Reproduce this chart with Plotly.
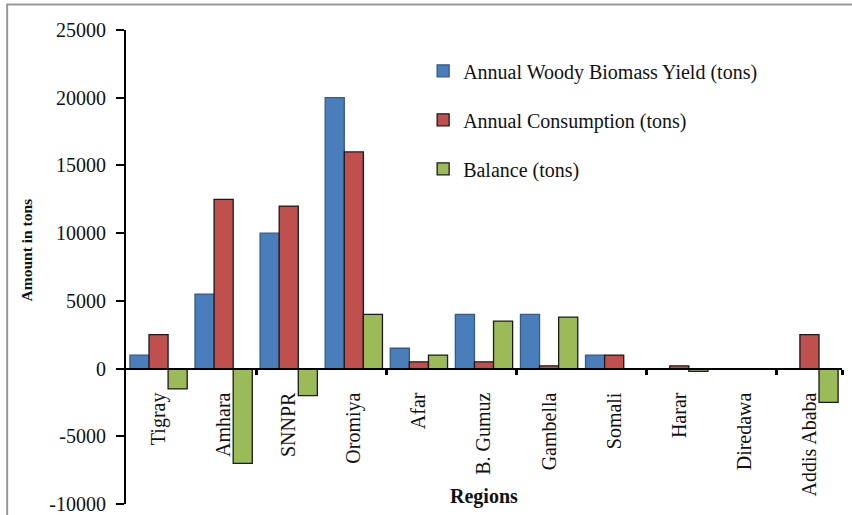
import plotly.graph_objects as go

# Regional woody biomass supply vs. consumption
regions = ["Tigray", "Amhara", "SNNPR", "Oromiya", "Afar", "B. Gumuz",
           "Gambella", "Somali", "Harar", "Diredawa", "Addis Ababa"]
biomass_yield = [1000, 5500, 10000, 20000, 1500, 4000, 4000, 1000, 0, 0, 0]
consumption = [2500, 12500, 12000, 16000, 500, 500, 200, 1000, 200, 0, 2500]
balance = [-1500, -7000, -2000, 4000, 1000, 3500, 3800, 0, -200, 0, -2500]

series_names = ["Annual Woody Biomass Yield (tons)",
                "Annual Consumption (tons)",
                "Balance (tons)"]
y_ticks = [-10000, -5000, 0, 5000, 10000, 15000, 20000, 25000]
y_tick_text = [str(v) for v in y_ticks]
y_min, y_max = -10000, 25000

SERIF = "Liberation Serif"
fills = ["#4A7EBB", "#C0504D", "#9BBB59"]
edges = ["#35598a", "#1a1a1a", "#1a1a1a"]

fig = go.Figure()
for i, (name, vals) in enumerate(zip(series_names, [biomass_yield, consumption, balance])):
    fig.add_trace(go.Bar(
        x=list(range(len(regions))), y=vals, name=name,
        marker=dict(color=fills[i], line=dict(color=edges[i], width=1.3)),
        legendgroup=f"g{i}",
    ))

# invisible helper trace so the secondary axis (tick marks between groups) renders
fig.add_trace(go.Scatter(x=[0], y=[0], xaxis="x2", mode="markers",
                         marker=dict(opacity=0), showlegend=False, hoverinfo="skip"))

zero_pos = (0 - y_min) / (y_max - y_min)
n = len(regions)

fig.update_layout(
    width=852, height=515,
    margin=dict(l=126, r=10, t=30, b=11, autoexpand=False),
    paper_bgcolor="white", plot_bgcolor="white",
    barmode="group", bargap=0.12, bargroupgap=0,
    font=dict(family=SERIF, color="#111"),
    xaxis=dict(
        range=[-0.5, n - 0.5], automargin=False,
        tickmode="array", tickvals=list(range(n)), ticktext=regions,
        tickangle=-90, tickfont=dict(size=20, family=SERIF, color="#111"),
        ticks="", ticklabelstandoff=15,
        showline=True, linecolor="black", linewidth=2,
        showgrid=False, zeroline=False,
        anchor="free", position=zero_pos,
    ),
    xaxis2=dict(
        overlaying="x", range=[-0.5, n - 0.5], automargin=False,
        tickmode="array", tickvals=[1.5, 3.5, 5.5, 7.5, 9.5, 10.5],
        showticklabels=False, ticks="outside", ticklen=5, tickwidth=2.5,
        tickcolor="black", showline=False, showgrid=False, zeroline=False,
        anchor="free", position=zero_pos,
    ),
    yaxis=dict(
        range=[y_min, y_max], automargin=False,
        tickmode="array", tickvals=y_ticks, ticktext=y_tick_text,
        tickfont=dict(size=20, family=SERIF, color="#111"),
        ticks="outside", ticklen=8, tickwidth=2, tickcolor="black",
        ticklabelstandoff=6,
        showline=True, linecolor="black", linewidth=2,
        showgrid=False, zeroline=False,
    ),
    legend=dict(
        x=0.415, y=0.955, xanchor="left", yanchor="top",
        font=dict(size=20, family=SERIF, color="#111"),
        bgcolor="rgba(0,0,0,0)", tracegroupgap=20,
        traceorder="grouped",
    ),
    showlegend=True,
    annotations=[
        dict(text="<b>Amount in tons</b>", textangle=-90,
             xref="paper", yref="paper", x=-0.139, y=0.536,
             xanchor="center", yanchor="middle", showarrow=False,
             font=dict(size=15.5, family=SERIF, color="#111")),
        dict(text="<b>Regions</b>",
             xref="paper", yref="paper", x=0.5, y=0.015,
             xanchor="center", yanchor="middle", showarrow=False,
             font=dict(size=20, family=SERIF, color="#111")),
    ],
    shapes=[
        dict(type="rect", xref="paper", yref="paper",
             x0=-0.166, x1=1.05, y0=-0.1, y1=1.054,
             line=dict(color="#9a9a9a", width=2), layer="below"),
    ],
)

fig.write_html("out.html")
